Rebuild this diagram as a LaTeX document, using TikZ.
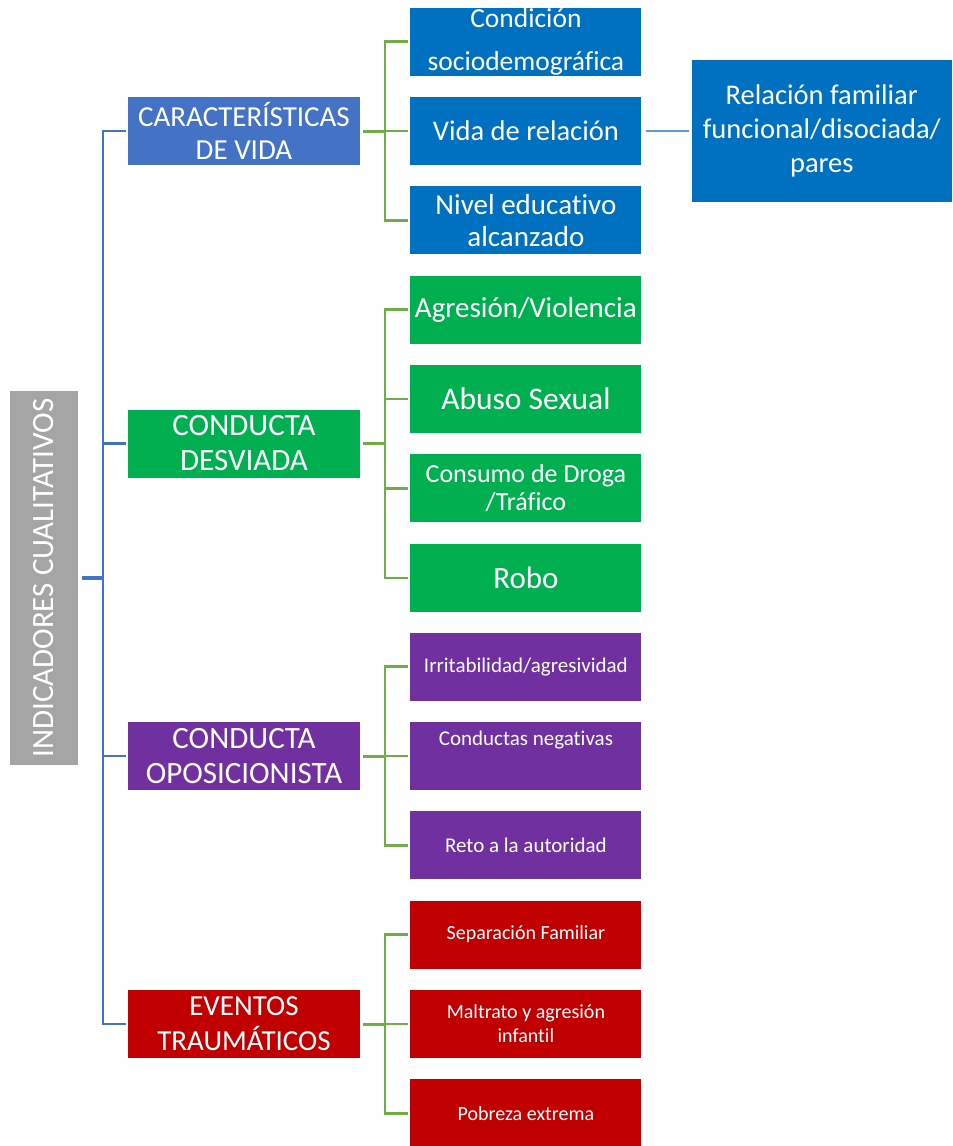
\documentclass[tikz,border=0pt]{standalone}
\usepackage{fontspec}
\setmainfont{Carlito}[Ligatures=NoCommon]
\usetikzlibrary{positioning}
\definecolor{catblue}{HTML}{4472C4}
\definecolor{kidblue}{HTML}{0070C0}
\definecolor{desvgreen}{HTML}{00B050}
\definecolor{opospurple}{HTML}{7030A0}
\definecolor{traured}{HTML}{C00000}
\definecolor{rootgray}{HTML}{A5A5A5}
\definecolor{linegreen}{HTML}{70AD47}
\definecolor{lineblue}{HTML}{5B9BD5}
\newcommand{\fsz}[2]{\fontsize{#1}{#2}\selectfont}
\tikzset{
rootbox/.style={fill=rootgray, text=white, rotate=90, minimum width=374pt, minimum height=68pt, inner sep=0pt}, % the vertical title on the left
catbox/.style={text=white, minimum width=232pt, minimum height=68pt, inner sep=0pt, align=center}, % the four categories
kidbox/.style={text=white, minimum width=231pt, minimum height=68pt, inner sep=0pt, align=center}, % the indicators
trunk/.style={draw=catblue, line width=2.4pt, shorten >=2pt}, % blue tree lines
branch/.style={draw=linegreen, line width=2.4pt, shorten <=3pt, shorten >=2pt}, % green tree lines
link/.style={draw=lineblue, line width=2.2pt, shorten <=4pt, shorten >=3pt}, % the last, light blue line
}

\begin{document}
\begin{tikzpicture}[x=1pt, y=-1pt]
    \useasboundingbox (0,0) rectangle (953,1146);
    \node[rootbox, font=\fsz{31}{36}] (ind) at (44,578) {INDICADORES CUALITATIVOS};

    % categories
    \node[catbox, fill=catblue, font=\fsz{29}{33}] (cvida) at (244,131) {CARACTERÍSTICAS\\DE VIDA};
    \node[catbox, fill=desvgreen, font=\fsz{31}{35}] (cdesv) at (244,443.5) {CONDUCTA\\DESVIADA};
    \node[catbox, fill=opospurple, font=\fsz{31}{35}] (copos) at (244,756) {CONDUCTA\\OPOSICIONISTA};
    \node[catbox, fill=traured, font=\fsz{29}{35}] (ctrau) at (244,1024) {EVENTOS\\TRAUMÁTICOS};

    % caracteristicas de vida
    \node[kidbox, fill=kidblue, font=\fsz{28.5}{33}, right=50pt of cvida] (vrel) {Vida de relación};
    \node[kidbox, fill=kidblue, font=\fsz{27.5}{43}, above=21pt of vrel] (csoc) {Condición\\sociodemográfica};
    \node[kidbox, fill=kidblue, font=\fsz{29}{32}, below=21pt of vrel] (nedu) {Nivel educativo\\alcanzado};
    \node[kidbox, fill=kidblue, font=\fsz{28.5}{34}, minimum width=260pt, minimum height=142pt, right=50pt of vrel] (rfam) {Relación familiar\\funcional/disociada/\\pares};

    % conducta desviada
    \node[kidbox, fill=desvgreen, font=\fsz{31.5}{36}, right=50pt of cdesv, yshift=44.5pt] (abus) {Abuso Sexual};
    \node[kidbox, fill=desvgreen, font=\fsz{29}{34}, above=21pt of abus] (agre) {Agresión/Violencia};
    \node[kidbox, fill=desvgreen, font=\fsz{26}{28}, below=21pt of abus] (cons) {Consumo de Droga\\/Tráfico};
    \node[kidbox, fill=desvgreen, font=\fsz{31}{36}, below=21pt of cons] (robo) {Robo};

    % conducta oposicionista
    \node[kidbox, fill=opospurple, font=\fsz{21}{36}, right=50pt of copos] (cneg) {Conductas negativas\\\mbox{}};
    \node[kidbox, fill=opospurple, font=\fsz{21}{26}, above=21pt of cneg] (irri) {Irritabilidad/agresividad};
    \node[kidbox, fill=opospurple, font=\fsz{21}{26}, below=21pt of cneg] (reto) {Reto a la autoridad};

    % eventos traumaticos
    \node[kidbox, fill=traured, font=\fsz{20}{24}, right=50pt of ctrau] (malt) {Maltrato y agresión\\infantil};
    \node[kidbox, fill=traured, font=\fsz{20}{24}, above=21pt of malt] (sepa) {Separación Familiar};
    \node[kidbox, fill=traured, font=\fsz{20}{24}, below=21pt of malt] (pobr) {Pobreza extrema};

    % lines
    \draw[trunk, line width=3.2pt, shorten <=4pt, shorten >=0pt] (ind.south) -- ++(25,0) coordinate (hub);
    \foreach \c in {cvida,cdesv,copos,ctrau}
        \draw[trunk] (hub) |- (\c.west);
    \foreach \c/\k in {cvida/csoc, cvida/vrel, cvida/nedu, cdesv/agre, cdesv/abus, cdesv/cons, cdesv/robo,
        copos/irri, copos/cneg, copos/reto, ctrau/sepa, ctrau/malt, ctrau/pobr}
        \draw[branch] (\c.east) -- ++(25,0) |- (\k.west);
    \foreach \c in {cvida,cdesv,copos,ctrau}
        \draw[branch, line width=3pt, shorten >=0pt] (\c.east) -- ++(25,0);
    \draw[link] (vrel) -- (rfam);
\end{tikzpicture}
\end{document}
